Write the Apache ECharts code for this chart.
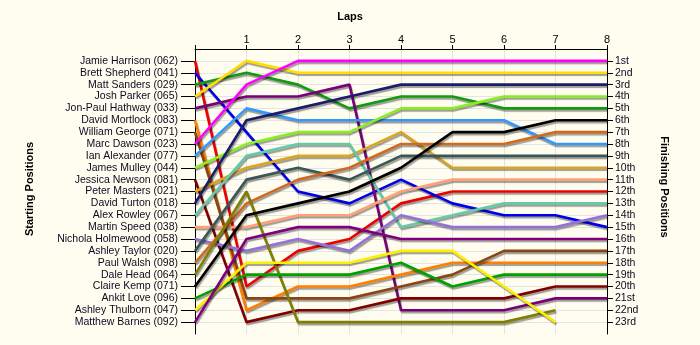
<!DOCTYPE html>
<html>
<head>
<meta charset="utf-8">
<script src="https://cdn.jsdelivr.net/npm/echarts@6/dist/echarts.min.js"></script>
<style>
  html, body { margin: 0; padding: 0; background: #FFFDEF; }
  #chart { width: 700px; height: 345px; }
</style>
</head>
<body>
<div id="chart"></div>
<script>
// Lap numbers along the top axis
const laps = [0, 1, 2, 3, 4, 5, 6, 7, 8];

// Grid order (left axis labels)
const starters = [
  'Jamie Harrison (062)', 'Brett Shepherd (041)', 'Matt Sanders (029)', 'Josh Parker (065)',
  'Jon-Paul Hathway (033)', 'David Mortlock (083)', 'William George (071)', 'Marc Dawson (023)',
  'Ian Alexander (077)', 'James Mulley (044)', 'Jessica Newson (081)', 'Peter Masters (021)',
  'David Turton (018)', 'Alex Rowley (067)', 'Martin Speed (038)', 'Nichola Holmewood (058)',
  'Ashley Taylor (020)', 'Paul Walsh (098)', 'Dale Head (064)', 'Claire Kemp (071)',
  'Ankit Love (096)', 'Ashley Thulborn (047)', 'Matthew Barnes (092)'
];

// Finishing position labels (right axis)
const finishLabels = [
  '1st', '2nd', '3rd', '4th', '5th', '6th', '7th', '8th', '9th', '10th', '11th', '12th',
  '13th', '14th', '15th', '16th', '17th', '18th', '19th', '20th', '21st', '22nd', '23rd'
];

// Running position of each driver at the end of each lap (lap 0 = grid)
const jamieHarrison    = [1, 20, 17, 16, 13, 12, 12, 12, 12];
const brettShepherd    = [2, 7, 12, 13, 11, 13, 14, 14, 15];
const mattSanders      = [3, 2, 3, 5, 4, 4, 5, 5, 5];
const joshParker       = [4, 1, 2, 2, 2, 2, 2, 2, 2];
const jonPaulHathway   = [5, 4, 4, 3, 22, 22, 22, 21, 21];
const davidMortlock    = [6, 22, 20, 20, 19, 18, 18, 18, 18];
const williamGeorge    = [7, 21, 21, 21, 20, 19, 17, 17, 17];
const marcDawson       = [8, 3, 1, 1, 1, 1, 1, 1, 1];
const ianAlexander     = [9, 5, 6, 6, 6, 6, 6, 8, 8];
const jamesMulley      = [10, 8, 7, 7, 5, 5, 4, 4, 4];
const jessicaNewson    = [11, 23, 22, 22, 21, 21, 21, 20, 20];
const peterMasters     = [12, 10, 9, 9, 7, 10, 10, 10, 10];
const davidTurton      = [13, 6, 5, 4, 3, 3, 3, 3, 3];
const alexRowley       = [14, 9, 8, 8, 15, 14, 13, 13, 13];
const martinSpeed      = [15, 15, 14, 14, 12, 11, 11, 11, 11];
const nicholaHolmewood = [16, 17, 16, 17, 14, 15, 15, 15, 14];
const ashleyTaylor     = [17, 11, 10, 11, 9, 9, 9, 9, 9];
const paulWalsh        = [18, 13, 11, 10, 8, 8, 8, 7, 7];
const daleHead         = [19, 12, 23, 23, 23, 23, 23, 22, null];
const claireKemp       = [20, 14, 13, 12, 10, 7, 7, 6, 6];
const ankitLove        = [21, 19, 19, 19, 18, 20, 19, 19, 19];
const ashleyThulborn   = [22, 18, 18, 18, 17, 17, 20, 23, null];
const matthewBarnes    = [23, 16, 15, 15, 16, 16, 16, 16, 16];

const driverLaps = [
  jamieHarrison, brettShepherd, mattSanders, joshParker, jonPaulHathway, davidMortlock,
  williamGeorge, marcDawson, ianAlexander, jamesMulley, jessicaNewson, peterMasters,
  davidTurton, alexRowley, martinSpeed, nicholaHolmewood, ashleyTaylor, paulWalsh,
  daleHead, claireKemp, ankitLove, ashleyThulborn, matthewBarnes
];

// Line colour per driver, in grid order
const lineColors = [
  '#EE0000', '#0000EE', '#129A12', '#FFDD00', '#7A007A', '#FF8000',
  '#8B4513', '#FF00FF', '#3399FF', '#88EE22', '#800000', '#DAA520',
  '#1C1C6C', '#66C9AA', '#FFA07A', '#9370DB', '#3B5656', '#D2691E',
  '#808000', '#000000', '#00A000', '#FFEE00', '#800080'
];

const FONT = 'Liberation Sans, Arial, sans-serif';
const rows = finishLabels.map((_, i) => i + 1);

const chart = echarts.init(document.getElementById('chart'), null, { renderer: 'canvas' });

const series = driverLaps.map((pos, i) => ({
  name: starters[i],
  type: 'line',
  xAxisIndex: 0,
  yAxisIndex: 0,
  symbol: 'none',
  silent: true,
  data: laps.map((lap, k) => pos[k] == null ? null : [lap, pos[k]]).filter(d => d),
  lineStyle: {
    color: lineColors[i],
    width: 2.6,
    shadowColor: 'rgba(0,0,0,0.38)',
    shadowBlur: 1,
    shadowOffsetX: 1,
    shadowOffsetY: 2
  }
}));

const yCommon = {
  type: 'value',
  min: 0,
  max: finishLabels.length + 1,
  interval: 1,
  inverse: true,
  axisLine: { show: true, lineStyle: { color: '#000', width: 1 } },
  splitLine: { show: false }
};

chart.setOption({
  animation: false,
  backgroundColor: '#FFFDEF',
  grid: { left: 195, right: 93, top: 49, bottom: 11, containLabel: false },
  xAxis: {
    type: 'value',
    position: 'top',
    min: 0,
    max: 8,
    interval: 1,
    axisLine: { show: true, lineStyle: { color: '#000', width: 1 } },
    axisTick: { show: true, length: 4, lineStyle: { color: '#000' } },
    axisLabel: {
      margin: 4,
      fontFamily: FONT,
      fontSize: 11,
      color: '#000',
      formatter: v => (v === 0 ? '' : String(v))
    },
    splitLine: { show: true, lineStyle: { color: '#E4E4E0', width: 1 } }
  },
  yAxis: [
    Object.assign({}, yCommon, {
      position: 'left',
      axisTick: { show: true, length: 14, customValues: rows, lineStyle: { color: '#000' } },
      axisLabel: {
        customValues: rows,
        margin: 17,
        fontFamily: FONT,
        fontSize: 10.5,
        color: '#0A0A20',
        formatter: v => starters[v - 1] || ''
      },
      splitLine: { show: true, lineStyle: { color: '#E4E4E0', width: 1 } }
    }),
    Object.assign({}, yCommon, {
      position: 'right',
      axisTick: { show: true, length: 6, customValues: rows, lineStyle: { color: '#000' } },
      axisLabel: {
        customValues: rows,
        margin: 8,
        fontFamily: FONT,
        fontSize: 10.5,
        color: '#0A0A20',
        formatter: v => finishLabels[v - 1] || ''
      }
    })
  ],
  graphic: [
    {
      type: 'text', x: 350, y: 17,
      style: { text: 'Laps', font: 'bold 11px ' + FONT, fill: '#000', textAlign: 'center', textVerticalAlign: 'middle' }
    },
    {
      type: 'text', x: 30, y: 189, rotation: Math.PI / 2,
      style: { text: 'Starting Positions', font: 'bold 11px ' + FONT, fill: '#000', textAlign: 'center', textVerticalAlign: 'middle' }
    },
    {
      type: 'text', x: 664, y: 187, rotation: -Math.PI / 2,
      style: { text: 'Finishing Positions', font: 'bold 11px ' + FONT, fill: '#000', textAlign: 'center', textVerticalAlign: 'middle' }
    }
  ],
  series: series
});
</script>
</body>
</html>
